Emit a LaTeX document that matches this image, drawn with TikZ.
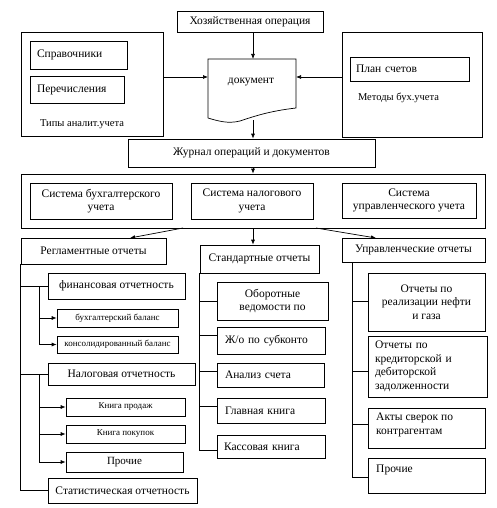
\documentclass[tikz,border=0pt]{standalone}
\usepackage{fontspec}
\setmainfont{Liberation Serif}
\newfontfamily\tnr{Liberation Serif}
\usetikzlibrary{arrows.meta}
\begin{document}
\begin{tikzpicture}[x=1pt,y=-1pt,
  box/.style={draw, line width=0.7pt, inner sep=0pt, align=center},
  lbox/.style={draw, line width=0.7pt, inner ysep=0pt, align=left},
  conn/.style={line width=0.7pt},
  arr/.style={line width=0.7pt, -{Latex[length=5pt,width=4pt]}},
  big/.style={font=\tnr\fontsize{11.5}{13.5}\selectfont},
  mid/.style={font=\tnr\fontsize{10.5}{12}\selectfont},
  small/.style={font=\tnr\fontsize{9}{10.5}\selectfont}
]
\useasboundingbox (0,0) rectangle (496,508);

% top
\node[box, big, minimum width=146, minimum height=21] (hoz) at (250,21.5) {Хозяйственная операция};
\node[box, minimum width=142, minimum height=104] (leftbig) at (92,84) {};
\node[lbox, big, text width=83, inner xsep=7pt, minimum height=28] (sprav) at (78.5,55) {Справочники};
\node[lbox, big, text width=80, inner xsep=7pt, minimum height=27] (perech) at (77,89.5) {Перечисления};
\node[mid, inner sep=0pt] (tipy) at (82,124) {Типы аналит.учета};

\node[box, minimum width=140, minimum height=105] (rightbig) at (412,84.5) {};
\node[lbox, big, text width=107, inner xsep=6pt, minimum height=24] (plan) at (409.5,69) {План счетов};
\node[mid, inner sep=0pt] (metody) at (398.5,98) {Методы бух.учета};

% document shape
\draw[line width=0.7pt] (208,118) -- (208,59) -- (296,59) -- (296,108)
  .. controls (270,111) and (255,116) .. (240,121)
  .. controls (228,124) and (218,121) .. (208,118);
\node[big, inner sep=0pt] (doc) at (251,82) {документ};
\coordinate (docN) at (253,59);
\coordinate (docW) at (208,77);
\coordinate (docE) at (296,77);
\coordinate (docS) at (253,120);

\node[box, big, minimum width=247, minimum height=28] (zhur) at (251.5,153) {Журнал операций и документов};

\draw[arr] (hoz.south -| docN) -- (docN);
\draw[arr] (leftbig.east |- docW) -- (docW);
\draw[arr] (rightbig.west |- docE) -- (docE);
\draw[arr] (docS) -- (docS |- zhur.north);

% systems
\node[box, minimum width=464, minimum height=54] (sysbig) at (253,201) {};
\node[box, big, minimum width=142, minimum height=36] (sys1) at (101,201) {Система бухгалтерского\\учета};
\node[box, big, minimum width=122, minimum height=36] (sys2) at (252,201) {Система налогового\\учета};
\node[box, big, minimum width=134, minimum height=35] (sys3) at (409,200.5) {Система\\управленческого учета};
\draw[arr] (zhur.south -| sysbig.north) -- (sysbig.north);

% report headers
\node[box, big, minimum width=145, minimum height=26] (regl) at (93.5,251) {Регламентные отчеты};
\node[box, big, minimum width=119, minimum height=28] (stand) at (259.5,259) {Стандартные отчеты};
\node[box, big, minimum width=143, minimum height=24] (upr) at (413.5,250) {Управленческие отчеты};

\coordinate (s1) at (183,228);
\coordinate (s3) at (316,228);
\draw[arr] (s1) -- (130,238);
\draw[arr] (sysbig.south) -- (sysbig.south |- stand.north);
\draw[arr] (s3) -- (376,238);

% left column
\node[box, big, minimum width=137, minimum height=26] (fin) at (116.5,286) {финансовая отчетность};
\node[box, small, minimum width=121, minimum height=18] (buh) at (117.5,318) {бухгалтерский баланс};
\node[box, small, minimum width=121, minimum height=17] (kons) at (117.5,344.5) {консолидированный баланс};
\node[box, big, minimum width=147, minimum height=22] (nal) at (121.5,374) {Налоговая отчетность};
\node[box, small, minimum width=119, minimum height=18] (kprod) at (125.5,407) {Книга продаж};
\node[box, small, minimum width=119, minimum height=18] (kpok) at (125.5,434) {Книга покупок};
\node[box, font=\tnr\fontsize{11}{13}\selectfont, minimum width=117, minimum height=20] (proch1) at (124.5,462) {Прочие};
\node[box, big, minimum width=149, minimum height=25] (stat) at (122.5,490.5) {Статистическая отчетность};

\draw[conn] (regl.south west) |- (stat.west);
\draw[conn] (fin.west) -- (fin.west -| regl.west);
\draw[conn] (nal.west) -- (nal.west -| regl.west);
\draw[arr] ([xshift=-8pt]fin.west) |- (buh.west);
\draw[arr] ([xshift=-8pt]fin.west) |- (kons.west);
\draw[arr] ([xshift=-8pt]nal.west) |- (kprod.west);
\draw[arr] ([xshift=-8pt]nal.west) |- (kpok.west);
\draw[arr] ([xshift=-8pt]nal.west) |- (proch1.west);

% middle column
\node[box, big, minimum width=111, minimum height=38] (ob) at (272.5,301) {Оборотные\\ведомости по};
\node[lbox, big, text width=92, inner xsep=8pt, minimum height=27] (zho) at (271,340.5) {Ж/о по субконто};
\node[lbox, big, text width=91, inner xsep=8pt, minimum height=24] (an) at (270.5,375) {Анализ счета};
\node[lbox, big, text width=92, inner xsep=8pt, minimum height=25] (glav) at (271,410.5) {Главная книга};
\node[lbox, big, text width=94, inner xsep=7pt, minimum height=23] (kass) at (271,446.5) {Кассовая книга};

\draw[conn] (stand.south west) -- (stand.west |- 0,450) -- (kass.west |- 0,450);
\draw[conn] (stand.west |- ob.west) -- (ob.west);
\draw[conn] (stand.west |- 0,335) -- (zho.west |- 0,335);
\draw[conn] (stand.west |- 0,371) -- (an.west |- 0,371);
\draw[conn] (stand.west |- 0,406) -- (glav.west |- 0,406);

% right column
\node[box, big, minimum width=117, minimum height=58] (r1) at (426.5,302) {Отчеты по\\реализации нефти\\и газа};
\node[lbox, big, text width=105, inner xsep=7pt, minimum height=61] (r2) at (427.5,366.5) {Отчеты по\\кредиторской и\\дебиторской\\задолженности};
\node[box, minimum width=117, minimum height=40] (r3) at (426.5,428) {};
\node[big, anchor=north west, align=left, inner sep=0pt] (r3t) at (376,413) {Акты сверок по\\контрагентам};
\node[box, minimum width=117, minimum height=35] (r4) at (426.5,475.5) {};
\node[big, anchor=west, inner sep=0pt] (r4t) at (376,470) {Прочие};

\coordinate (uv) at (352,262);
\draw[conn] (uv) -- (uv |- 0,477) -- (r4.west |- 0,477);
\draw[conn] (uv |- 0,301) -- (r1.west |- 0,301);
\draw[conn] (uv |- 0,371) -- (r2.west |- 0,371);
\draw[conn] (uv |- 0,424) -- (r3.west |- 0,424);
\end{tikzpicture}
\end{document}
